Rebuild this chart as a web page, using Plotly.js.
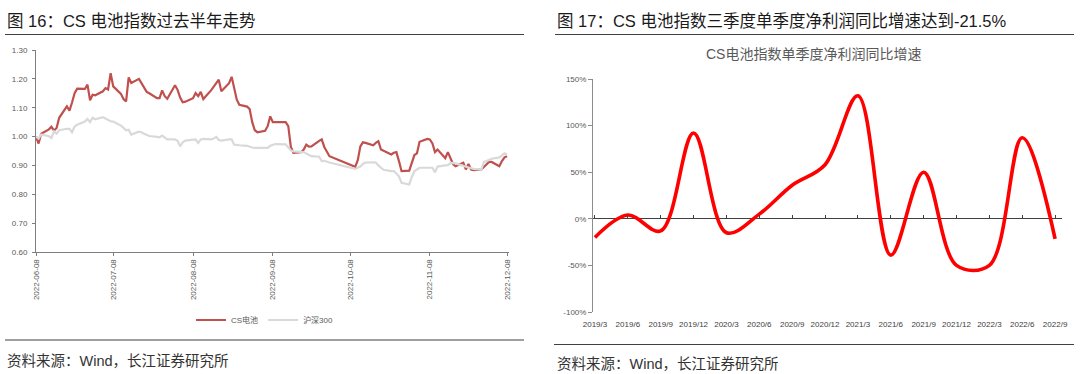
<!DOCTYPE html>
<html>
<head>
<meta charset="utf-8">
<script src="https://cdn.plot.ly/plotly-3.0.1.min.js"></script>
<style>html,body{margin:0;padding:0;background:#fff;}#chart{width:1080px;height:374px;}</style>
</head>
<body>
<div id="chart"></div>
<script>
// ---------- Left chart data: CS电池 vs 沪深300 (normalised) ----------
const tradeDates = [
'2022-06-08','2022-06-09','2022-06-10','2022-06-13','2022-06-14','2022-06-15','2022-06-16','2022-06-17','2022-06-20','2022-06-21','2022-06-22','2022-06-23','2022-06-24','2022-06-27','2022-06-28','2022-06-29','2022-06-30',
'2022-07-01','2022-07-04','2022-07-05','2022-07-06','2022-07-07','2022-07-08','2022-07-11','2022-07-12','2022-07-13','2022-07-14','2022-07-15','2022-07-18','2022-07-19','2022-07-20','2022-07-21','2022-07-22','2022-07-25','2022-07-26','2022-07-27','2022-07-28','2022-07-29',
'2022-08-01','2022-08-02','2022-08-03','2022-08-04','2022-08-05','2022-08-08','2022-08-09','2022-08-10','2022-08-11','2022-08-12','2022-08-15','2022-08-16','2022-08-17','2022-08-18','2022-08-19','2022-08-22','2022-08-23','2022-08-24','2022-08-25','2022-08-26','2022-08-29','2022-08-30','2022-08-31',
'2022-09-01','2022-09-02','2022-09-05','2022-09-06','2022-09-07','2022-09-08','2022-09-09','2022-09-13','2022-09-14','2022-09-15','2022-09-16','2022-09-19','2022-09-20','2022-09-21','2022-09-22','2022-09-23','2022-09-26','2022-09-27','2022-09-28','2022-09-29','2022-09-30',
'2022-10-10','2022-10-11','2022-10-12','2022-10-13','2022-10-14','2022-10-17','2022-10-18','2022-10-19','2022-10-20','2022-10-21','2022-10-24','2022-10-25','2022-10-26','2022-10-27','2022-10-28','2022-10-31',
'2022-11-01','2022-11-02','2022-11-03','2022-11-04','2022-11-07','2022-11-08','2022-11-09','2022-11-10','2022-11-11','2022-11-14','2022-11-15','2022-11-16','2022-11-17','2022-11-18','2022-11-21','2022-11-22','2022-11-23','2022-11-24','2022-11-25','2022-11-28','2022-11-29','2022-11-30',
'2022-12-01','2022-12-02','2022-12-05','2022-12-06','2022-12-07','2022-12-08'
];
const csBattery = [
1.000,0.976,1.010,1.025,1.034,1.021,1.030,1.065,1.105,1.090,1.118,1.150,1.166,1.165,1.180,1.126,1.145,
1.143,1.157,1.168,1.163,1.220,1.174,1.148,1.130,1.122,1.205,1.186,1.200,1.185,1.168,1.155,1.150,1.133,1.133,1.160,1.140,1.131,
1.178,1.162,1.135,1.119,1.121,1.133,1.151,1.140,1.155,1.130,1.160,1.172,1.185,1.197,1.157,1.185,1.207,1.168,1.128,1.110,1.104,1.095,1.050,
1.022,1.015,1.020,1.036,1.070,1.050,1.050,1.050,1.036,0.964,0.944,0.946,0.955,0.972,0.965,0.966,0.985,0.990,0.964,0.950,0.932,
0.895,0.918,0.966,0.980,0.978,0.970,0.978,0.984,0.955,0.951,0.938,0.944,0.946,0.915,0.880,0.882,
0.912,0.936,0.942,0.982,0.992,0.990,0.976,0.946,0.955,0.925,0.946,0.925,0.905,0.897,0.909,0.886,0.905,0.886,0.884,0.886,0.895,0.903,
0.912,0.912,0.897,0.915,0.928,0.932
];
const hs300 = [
1.000,0.993,1.007,1.001,0.995,1.018,1.010,1.022,1.027,1.027,1.015,1.035,1.041,1.052,1.061,1.050,1.065,
1.060,1.067,1.062,1.058,1.053,1.052,1.038,1.030,1.022,1.024,1.007,1.017,1.015,1.010,1.007,1.002,0.999,0.997,1.003,0.996,0.990,
0.990,0.985,0.966,0.980,0.986,0.988,0.990,0.978,0.990,0.992,0.990,0.993,0.999,0.988,0.986,0.990,0.990,0.972,0.972,0.970,0.968,0.964,0.962,
0.961,0.961,0.961,0.961,0.968,0.972,0.974,0.973,0.964,0.952,0.949,0.948,0.946,0.941,0.935,0.932,0.930,0.915,0.916,0.914,0.910,
0.888,0.893,0.896,0.905,0.910,0.911,0.910,0.900,0.892,0.885,0.880,0.880,0.872,0.862,0.840,0.834,
0.860,0.880,0.886,0.892,0.892,0.892,0.892,0.876,0.896,0.900,0.901,0.908,0.909,0.907,0.897,0.895,0.893,0.890,0.888,0.886,0.912,0.915,
0.920,0.923,0.928,0.936,0.942,0.938
];
const leftTickDates = ['2022-06-08','2022-07-08','2022-08-08','2022-09-08','2022-10-08','2022-11-08','2022-12-08'];
const leftYTicks = [0.60,0.70,0.80,0.90,1.00,1.10,1.20,1.30];
const seriesNames = ['CS电池','沪深300'];

// ---------- Right chart data: quarterly YoY net profit growth (%) ----------
const quarters = ['2019/3','2019/6','2019/9','2019/12','2020/3','2020/6','2020/9','2020/12','2021/3','2021/6','2021/9','2021/12','2022/3','2022/6','2022/9'];
const yoyGrowth = [-20, 4, -13, 92, -15, 5, 36, 58, 132, -39, 50, -50, -50, 87, -21.5];
const rightYTicks = [-100,-50,0,50,100,150];
const rightYTickText = ['-100%','-50%','0%','50%','100%','150%'];

// ---------- Texts ----------
const leftHeader = '图 16：CS 电池指数过去半年走势';
const rightHeader = '图 17：CS 电池指数三季度单季度净利润同比增速达到-21.5%';
const rightChartTitle = 'CS电池指数单季度净利润同比增速';
const sourceNote = '资料来源：Wind，长江证券研究所';

// ---------- helpers: pixel -> paper ----------
const W = 1080, H = 374;
const px = x => x / W;
const py = y => 1 - y / H;
const FONT = 'Liberation Sans, Arial, Noto Sans CJK SC, sans-serif';

const traces = [
  {x: tradeDates, y: csBattery, name: seriesNames[0], type: 'scatter', mode: 'lines',
   line: {color: '#C0504D', width: 2.2}, xaxis: 'x', yaxis: 'y', hoverinfo: 'skip'},
  {x: tradeDates, y: hs300, name: seriesNames[1], type: 'scatter', mode: 'lines',
   line: {color: '#D9D9D9', width: 2.2}, xaxis: 'x', yaxis: 'y', hoverinfo: 'skip'},
  {x: quarters, y: yoyGrowth, type: 'scatter', mode: 'lines', showlegend: false,
   line: {color: '#FF0000', width: 3.6, shape: 'spline', smoothing: 1},
   xaxis: 'x2', yaxis: 'y2', hoverinfo: 'skip'},
  {x: quarters, y: yoyGrowth, type: 'scatter', mode: 'lines', showlegend: false, opacity: 0,
   xaxis: 'x3', yaxis: 'y2', hoverinfo: 'skip'}
];

const layout = {
  width: W, height: H,
  margin: {l: 0, r: 0, t: 0, b: 0},
  paper_bgcolor: '#ffffff', plot_bgcolor: 'rgba(0,0,0,0)',
  font: {family: FONT, color: '#595959', size: 8},
  showlegend: true,
  legend: {orientation: 'h', x: px(265), xanchor: 'center', y: py(320), yanchor: 'middle',
           font: {size: 8, color: '#595959'}, itemwidth: 30, bgcolor: 'rgba(0,0,0,0)', tracegroupgap: 0},
  xaxis: {
    type: 'date', domain: [px(36), px(509)], anchor: 'y',
    range: ['2022-06-08', '2022-12-08 18:00'],
    tickvals: leftTickDates, ticktext: leftTickDates, tickangle: -90,
    showline: true, linecolor: '#7f7f7f', linewidth: 1,
    ticks: 'outside', ticklen: 3, tickcolor: '#7f7f7f',
    showgrid: false, zeroline: false, tickfont: {size: 8, color: '#595959'}
  },
  yaxis: {
    domain: [py(252), py(50)], anchor: 'x', range: [0.6, 1.3],
    tickvals: leftYTicks, tickformat: '.2f',
    showline: true, linecolor: '#7f7f7f', linewidth: 1,
    ticks: 'outside', ticklen: 3, tickcolor: '#7f7f7f', ticklabelstandoff: 3,
    showgrid: false, zeroline: false, tickfont: {size: 8, color: '#595959'}
  },
  xaxis2: {
    type: 'category', categoryorder: 'array', categoryarray: quarters,
    domain: [px(593), px(1062)], anchor: 'y2', range: [-0.06, 14.21],
    showline: false, ticks: 'outside', ticklen: 4, tickcolor: 'rgba(0,0,0,0)',
    showgrid: false, zeroline: false, tickfont: {size: 8, color: '#404040'}, tickangle: 0
  },
  xaxis3: {
    type: 'category', categoryorder: 'array', categoryarray: quarters,
    domain: [px(593), px(1062)], overlaying: 'x2', anchor: 'free',
    position: py(218.8), range: [-0.06, 14.21],
    showline: false, ticks: 'inside', ticklen: 4, tickcolor: '#404040',
    showticklabels: false, showgrid: false, zeroline: false
  },
  yaxis2: {
    domain: [py(312), py(79)], anchor: 'x2', range: [-100, 150],
    tickvals: rightYTicks, ticktext: rightYTickText,
    showline: true, linecolor: '#8c8c8c', linewidth: 1,
    ticks: 'outside', ticklen: 4, tickcolor: '#8c8c8c',
    showgrid: false, zeroline: true, zerolinecolor: '#404040', zerolinewidth: 1,
    tickfont: {size: 8, color: '#595959'}
  },
  shapes: [
    {type: 'line', xref: 'paper', yref: 'paper', x0: px(5), x1: px(524), y0: py(34.5), y1: py(34.5), line: {color: '#404040', width: 1.2}},
    {type: 'line', xref: 'paper', yref: 'paper', x0: px(555), x1: px(1074), y0: py(34.5), y1: py(34.5), line: {color: '#404040', width: 1.2}},
    {type: 'line', xref: 'paper', yref: 'paper', x0: px(5), x1: px(524), y0: py(340), y1: py(340), line: {color: '#404040', width: 1.2}},
    {type: 'line', xref: 'paper', yref: 'paper', x0: px(554), x1: px(1074), y0: py(344.5), y1: py(344.5), line: {color: '#404040', width: 1.2}}
  ],
  annotations: [
    {text: leftHeader, xref: 'paper', yref: 'paper', x: px(5), y: py(21), xanchor: 'left', yanchor: 'middle', showarrow: false,
     font: {family: FONT, size: 16.5, color: '#1a1a1a'}},
    {text: rightHeader, xref: 'paper', yref: 'paper', x: px(555), y: py(21), xanchor: 'left', yanchor: 'middle', showarrow: false,
     font: {family: FONT, size: 16.5, color: '#1a1a1a'}},
    {text: rightChartTitle, xref: 'paper', yref: 'paper', x: px(813), y: py(54), xanchor: 'center', yanchor: 'middle', showarrow: false,
     font: {family: FONT, size: 14, color: '#595959'}},
    {text: sourceNote, xref: 'paper', yref: 'paper', x: px(5), y: py(361), xanchor: 'left', yanchor: 'middle', showarrow: false,
     font: {family: FONT, size: 14.5, color: '#333333'}},
    {text: sourceNote, xref: 'paper', yref: 'paper', x: px(555), y: py(363.5), xanchor: 'left', yanchor: 'middle', showarrow: false,
     font: {family: FONT, size: 14.5, color: '#333333'}}
  ]
};

Plotly.newPlot('chart', traces, layout, {staticPlot: true, displayModeBar: false});
</script>
</body>
</html>
